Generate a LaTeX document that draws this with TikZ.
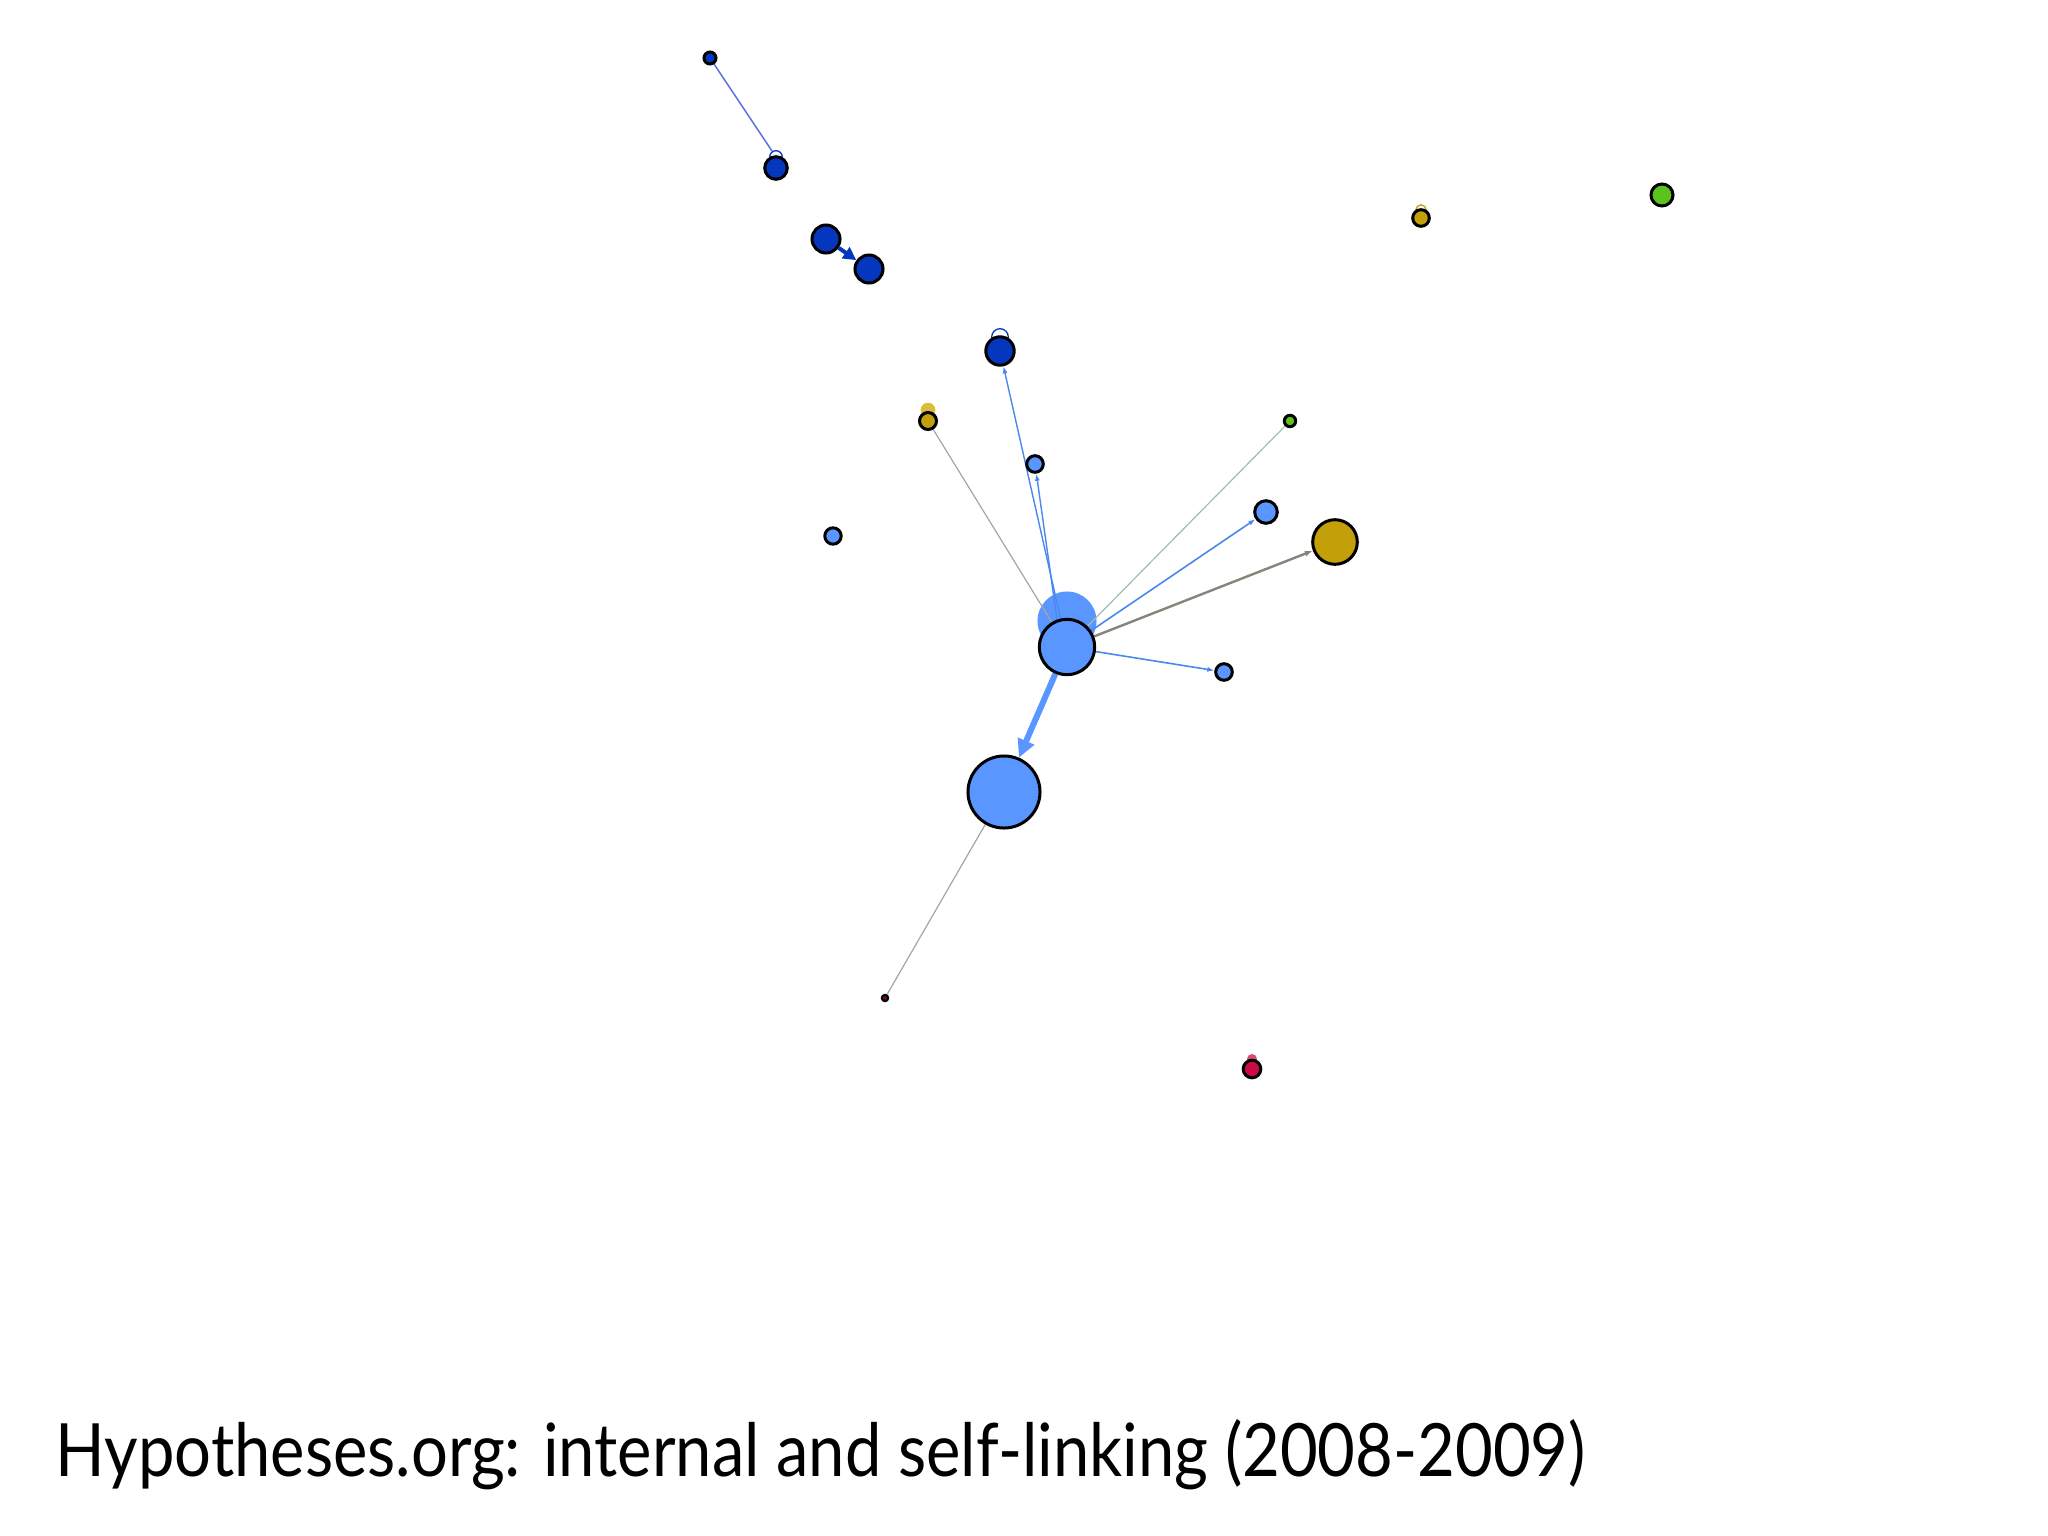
\documentclass[tikz,border=0pt]{standalone}
\usepackage{fontspec}
\setmainfont{Lato}
\usepackage{graphicx}
\usetikzlibrary{arrows.meta}
\definecolor{lblue}{HTML}{5A96FF}
\definecolor{dblue}{HTML}{0536BE}
\definecolor{gold}{HTML}{C3A00A}
\definecolor{lgold}{HTML}{D9BC3A}
\definecolor{ngreen}{HTML}{5AC31E}
\definecolor{nred}{HTML}{CC0A46}
\definecolor{lred}{HTML}{DE4A78}
\definecolor{darkred}{HTML}{661111}
\definecolor{edblue}{HTML}{4A88EE}
\definecolor{edpurple}{HTML}{5A6AE0}
\definecolor{edgray}{HTML}{A5A5A5}
\definecolor{edgreen}{HTML}{99C0B0}
\definecolor{edolive}{HTML}{85857A}
\pgfdeclarelayer{back}
\pgfdeclarelayer{bg}
\pgfsetlayers{back,bg,main}
\begin{document}
\begin{tikzpicture}[x=0.01cm,y=-0.01cm,
  nd/.style={circle,draw=black,line width=0.03cm,inner sep=0pt,minimum size=#1},
  loopo/.style={circle,draw=#1,line width=0.013cm,inner sep=0pt},
  loopf/.style={circle,fill=#1,inner sep=0pt},
  thin edge/.style={line width=0.014cm},
  small tip/.style={-{Latex[length=0.07cm,width=0.05cm]}}]
\begin{pgfonlayer}{back}
\fill[white] (0,0) rectangle (2048,1536);
\end{pgfonlayer}
\useasboundingbox (0,0) rectangle (2048,1536);

% nodes
\node[nd=0.12cm,fill=dblue] (A) at (710,58) {};
\node[nd=0.226cm,fill=dblue] (B) at (776,168) {};
\node[nd=0.28cm,fill=dblue] (C) at (826,239) {};
\node[nd=0.28cm,fill=dblue] (D) at (869,269) {};
\node[nd=0.284cm,fill=dblue] (E) at (1000,351) {};
\node[nd=0.166cm,fill=lblue] (F) at (1035,464) {};
\node[nd=0.17cm,fill=gold] (G) at (928,421) {};
\node[nd=0.114cm,fill=ngreen] (H) at (1290,421) {};
\node[nd=0.226cm,fill=lblue] (I) at (1266,512) {};
\node[nd=0.446cm,fill=gold] (J) at (1335,542) {};
\node[nd=0.554cm,fill=lblue] (K) at (1067,647) {};
\node[nd=0.166cm,fill=lblue] (L) at (1224,672) {};
\node[nd=0.72cm,fill=lblue] (M) at (1004,792) {};
\node[nd=0.064cm,fill=darkred,line width=0.02cm] (N) at (885,998) {};
\node[nd=0.164cm,fill=lblue] (O) at (833,536) {};
\node[nd=0.166cm,fill=gold] (P) at (1421,218) {};
\node[nd=0.22cm,fill=ngreen] (Q) at (1662,195) {};
\node[nd=0.176cm,fill=nred] (R) at (1252,1069) {};

\begin{pgfonlayer}{bg}
% self-loops
\node[loopo=dblue,minimum size=0.126cm] (BL) at (776,157) {};
\node[loopo=dblue,minimum size=0.166cm] (EL) at (1000,337) {};
\node[loopf=lgold,minimum size=0.146cm] (GL) at (928,410) {};
\node[loopo=gold,minimum size=0.104cm] (PL) at (1421,210) {};
\node[loopf=lred,minimum size=0.10cm] (RL) at (1252,1059) {};
\node[loopf=lblue,minimum size=0.59cm] (KL) at (1067,621) {};
% edges
\draw[thin edge,edpurple] (A) -- (BL);
\draw[dblue,line width=0.04cm,-{Triangle[length=0.13cm,width=0.13cm]}] (C) -- (D);
\draw[thin edge,edblue,small tip] (K) -- (E);
\draw[thin edge,edblue,small tip] (K.110) -- (F);
\draw[line width=0.012cm,edgray] (K) -- (G);
\draw[line width=0.012cm,edgreen] (K) -- (H);
\draw[line width=0.016cm,edblue,small tip] (K) -- (I);
\draw[line width=0.024cm,edolive,-{Latex[length=0.08cm,width=0.06cm]}] (K) -- (J);
\draw[line width=0.016cm,edblue,small tip] (K) -- (L);
\draw[lblue,line width=0.06cm,-{Triangle[length=0.18cm,width=0.17cm]}] (K) -- (M);
\draw[line width=0.012cm,edgray] (M) -- (N);
\end{pgfonlayer}

% title
\node[anchor=base west,inner sep=0pt] (T) at (55,1476)
  {\resizebox{15.29cm}{0.57cm}{Hypotheses.org: internal and self-linking (2008-2009)}};
\end{tikzpicture}
\end{document}
